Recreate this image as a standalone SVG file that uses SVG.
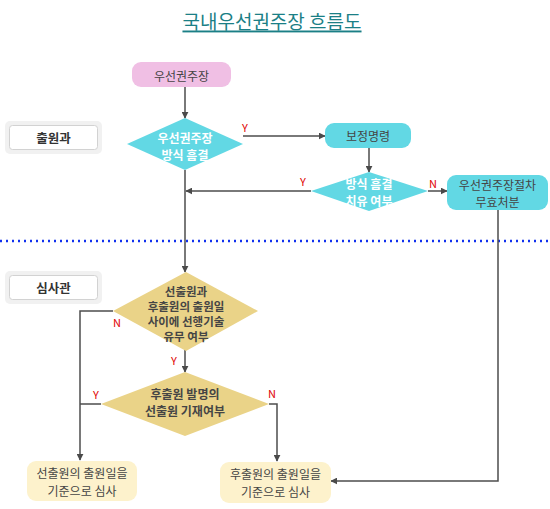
<svg xmlns="http://www.w3.org/2000/svg" width="550" height="509" viewBox="0 0 550 509">
<defs>
<marker id="ah" viewBox="0 0 10 10" refX="9" refY="5" markerWidth="7" markerHeight="7" orient="auto" markerUnits="userSpaceOnUse">
<path d="M0,0 L10,5 L0,10 z" fill="#4a4a4a"/>
</marker>
<style>
text{font-family:"Noto Sans CJK KR","Noto Sans",sans-serif;font-size:12px;text-anchor:middle;dominant-baseline:central}
.title{font-size:19px;fill:#1b7f86;text-decoration:underline}
.ln{fill:none;stroke:#4d4d4d;stroke-width:1.5}
.cy{fill:#62d8e4}
.yl{fill:#ead388}
.cr{fill:#fdf2cc}
.dk{fill:#454545}
.wb{fill:#ffffff;font-weight:bold;font-size:12px}
.db{fill:#454545;font-weight:bold;font-size:12px}
.db2{fill:#454545;font-weight:bold;font-size:11.5px}
.lab{fill:#e00000;font-size:11px}
.lbo{fill:#f1f1f1}
.lbi{fill:#ffffff;stroke:#d2d2d2;stroke-width:1}
.lbt{fill:#333;font-weight:bold;font-size:12.5px}
</style>
</defs>
<rect width="550" height="509" fill="#ffffff"/>
<text class="title" x="272" y="20">국내우선권주장 흐름도</text>
<line x1="0" y1="241" x2="550" y2="241" stroke="#1030ee" stroke-width="2.5" stroke-dasharray="2,4"/>

<g id="lab1"><rect class="lbo" x="5" y="121" width="97" height="33" rx="5"/><rect class="lbi" x="9.5" y="125.5" width="88" height="24" rx="3"/><text class="lbt" x="53.5" y="137.5">출원과</text></g>
<g id="lab2"><rect class="lbo" x="5" y="271" width="97" height="33" rx="5"/><rect class="lbi" x="9.5" y="275.5" width="88" height="24" rx="3"/><text class="lbt" x="53.5" y="287.5">심사관</text></g>

<g id="connectors">
<path class="ln" d="M185,87 V118" marker-end="url(#ah)"/>
<path class="ln" d="M243,136 H325" marker-end="url(#ah)"/>
<path class="ln" d="M369,148 V172" marker-end="url(#ah)"/>
<path class="ln" d="M311,191 H186" marker-end="url(#ah)"/>
<path class="ln" d="M428,191 H447" marker-end="url(#ah)"/>
<path class="ln" d="M185,170 V272" marker-end="url(#ah)"/>
<path class="ln" d="M498,210 V481 H331" marker-end="url(#ah)"/>
<path class="ln" d="M185,350 V372" marker-end="url(#ah)"/>
<path class="ln" d="M113,311 H80 V460" marker-end="url(#ah)"/>
<path class="ln" d="M101,404 H80"/>
<path class="ln" d="M269,404 H277 V461" marker-end="url(#ah)"/>
<text class="lab" x="245" y="127">Y</text>
<text class="lab" x="303" y="181">Y</text>
<text class="lab" x="433" y="183">N</text>
<text class="lab" x="117" y="322">N</text>
<text class="lab" x="174" y="360">Y</text>
<text class="lab" x="96" y="394">Y</text>
<text class="lab" x="272" y="393">N</text>
</g>

<g id="start"><rect x="132" y="62" width="99" height="25" rx="9" fill="#f0bfe4"/><text class="dk" x="181.5" y="75">우선권주장</text></g>
<g id="d1"><polygon class="cy" points="127,144 185,118 243,144 185,170"/><text class="wb" x="185" y="137">우선권주장</text><text class="wb" x="185" y="154.5">방식 흠결</text></g>
<g id="correct"><rect class="cy" x="325" y="123" width="86" height="25" rx="9"/><text class="dk" x="368" y="135.5">보정명령</text></g>
<g id="d2"><polygon class="cy" points="311,191 369,172 428,191 369,211"/><text class="wb" x="369" y="183">방식 흠결</text><text class="wb" x="369" y="200.5">치유 여부</text></g>
<g id="invalid"><rect class="cy" x="447" y="175" width="101" height="35" rx="9"/><text class="dk" x="497.5" y="184">우선권주장절차</text><text class="dk" x="497.5" y="201.5">무효처분</text></g>
<g id="d3"><polygon class="yl" points="113,311 186,272 258,311 186,351"/><text class="db2" x="186" y="291">선출원과</text><text class="db2" x="186" y="306">후출원의 출원일</text><text class="db2" x="186" y="321">사이에 선행기술</text><text class="db2" x="186" y="336">유무 여부</text></g>
<g id="d4"><polygon class="yl" points="101,404 185,372 269,404 185,436"/><text class="db" x="185" y="393">후출원 발명의</text><text class="db" x="185" y="410.5">선출원 기재여부</text></g>
<g id="prior"><rect class="cr" x="27" y="461" width="110" height="40" rx="9"/><text class="dk" x="82" y="472">선출원의 출원일을</text><text class="dk" x="82" y="490">기준으로 심사</text></g>
<g id="later"><rect class="cr" x="220" y="462" width="111" height="41" rx="9"/><text class="dk" x="275.5" y="473">후출원의 출원일을</text><text class="dk" x="275.5" y="491">기준으로 심사</text></g>
</svg>
